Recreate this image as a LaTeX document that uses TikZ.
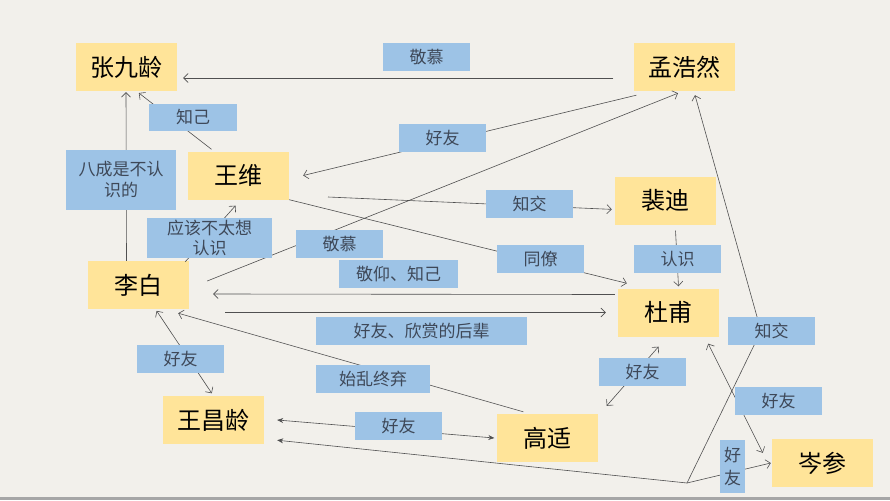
\documentclass[tikz,border=0pt]{standalone}
\usepackage{fontspec}
\newfontfamily\cjk{Noto Sans CJK SC}
\usetikzlibrary{arrows.meta}
\definecolor{paper}{RGB}{242,240,235}
\definecolor{namefill}{RGB}{255,228,153}
\definecolor{tagfill}{RGB}{157,195,230}
\definecolor{tagtext}{RGB}{62,72,88}
\definecolor{linkc}{RGB}{80,80,80}

\begin{document}
\begin{tikzpicture}[x=1pt,y=-1pt,
  person/.style={fill=namefill,minimum width=101pt,minimum height=48pt,inner sep=0pt,font=\cjk\fontsize{24}{28}\selectfont},
  tag/.style={fill=tagfill,minimum width=87pt,minimum height=28pt,inner sep=0pt,text=tagtext,align=center,font=\cjk\fontsize{17}{21}\selectfont},
  link/.style={draw=linkc,line width=0.6pt},
  otip/.tip={Straight Barb[length=4.5pt,width=9pt]},
  ftip/.tip={Stealth[length=6pt,width=5pt]}]
  \useasboundingbox (0,0) rectangle (890,500);
  \fill[paper] (0,0) rectangle (890,500);
  \fill[gray!70] (0,497) rectangle (890,500);

  \node[person] (zjl) at (126.5,67) {张九龄};
  \node[person] (mhr) at (684,67) {孟浩然};
  \node[person] (ww) at (238.5,175.5) {王维};
  \node[person] (pd) at (665.5,200.5) {裴迪};
  \node[person] (lb) at (138.5,285) {李白};
  \node[person] (du) at (668.5,312.5) {杜甫};
  \node[person] (wcl) at (213.5,420) {王昌龄};
  \node[person] (gs) at (547,438) {高适};
  \node[person] (cs) at (822.5,463) {岑参};
  \coordinate (zjfree) at (328,197);
  \coordinate (knee) at (687,483);
  \coordinate (kink) at (761,331);

  \draw[link,-{otip},shorten <=20pt,shorten >=6pt] ([yshift=-11pt]mhr.west) -- ([yshift=-11pt]zjl.east);
  \draw[link,-{otip},shorten >=3pt] ([xshift=-27pt,yshift=2pt]ww.north) -- ([xshift=10pt]zjl.south);
  \draw[link,-{otip},shorten >=1pt] ([xshift=-12pt]lb.north) -- ([xshift=-0.5pt]zjl.south);
  \draw[link,-{otip}] ([xshift=3pt,yshift=-4pt]mhr.south west) -- ([xshift=14pt]ww.east);
  \draw[link,-{otip}] ([xshift=18pt,yshift=4pt]lb.east) -- ([xshift=-6pt,yshift=-2pt]mhr.south);
  \draw[link,-{otip}] ([xshift=-4pt,yshift=-1pt]lb.north east) -- ([xshift=-3pt,yshift=-6pt]ww.south);
  \draw[link,-{otip},shorten >=3pt] (zjfree) -- ([yshift=-9pt]pd.west);
  \draw[link,-{otip}] (ww.south east) -- ([xshift=9pt,yshift=5pt]du.north west);
  \draw[link,-{otip}] ([xshift=10pt,yshift=-6pt]pd.south) -- ([xshift=10pt,yshift=2pt]du.north);
  \draw[link,-{otip}] ([xshift=-3pt,yshift=18pt]du.west) -- ([xshift=24pt,yshift=-9pt]lb.east);
  \draw[link,-{otip}] ([xshift=36pt,yshift=-27.5pt]lb.east) -- ([xshift=-12pt]du.west);
  \draw[link,{otip}-{otip},shorten <=3pt,shorten >=2pt] (wcl.north) -- ([xshift=17pt]lb.south);
  \draw[link,-{otip}] ([xshift=27pt,yshift=2pt]gs.north west) -- ([xshift=-11pt,yshift=-4pt]lb.south east);
  \draw[link,{ftip}-{ftip}] ([xshift=13pt]wcl.east) -- ([xshift=-2pt]gs.west);
  \draw[link,{otip}-{otip}] ([xshift=9pt,yshift=8pt]gs.north east) -- ([xshift=-10pt,yshift=-10pt]du.south);
  \draw[link,{otip}-{otip}] ([xshift=-11pt,yshift=-7pt]du.south east) -- ([xshift=-9pt,yshift=-14pt]cs.north west);
  \draw[link,{ftip}-{otip}] ([xshift=13pt,yshift=4pt]wcl.south east) -- (knee) -- ([xshift=-1pt]cs.west);
  \draw[link,-{otip}] (knee) -- (kink) -- ([xshift=11pt,yshift=-4pt]mhr.south);

  \node[tag] (tjm1) at (426.5,57) {敬慕};
  \node[tag,minimum width=88pt,minimum height=27pt] (tzj1) at (193,117.5) {知己};
  \node[tag] (thy1) at (442.5,138) {好友};
  \node[tag,minimum width=110pt,minimum height=60pt] (tbc) at (121,180) {八成是不认\\识的};
  \node[tag] (tzj2) at (529.5,203.5) {知交};
  \node[tag,minimum width=125pt,minimum height=40pt,font=\cjk\fontsize{17}{20}\selectfont] (tyg) at (209.5,238) {应该不太想\\认识};
  \node[tag] (tjm2) at (339.5,244) {敬慕};
  \node[tag] (ttl) at (540.5,259) {同僚};
  \node[tag] (trs) at (677.5,259) {认识};
  \node[tag,minimum width=119pt] (tjy) at (398.5,274) {敬仰、知己};
  \node[tag,minimum width=211pt] (thy2) at (421.5,331) {好友、欣赏的后辈};
  \node[tag] (tzj3) at (771.5,331) {知交};
  \node[tag] (thy3) at (180.5,359) {好友};
  \node[tag,minimum width=114pt] (tsl) at (373,379) {始乱终弃};
  \node[tag] (thy4) at (642.5,372) {好友};
  \node[tag] (thy5) at (778.5,401) {好友};
  \node[tag] (thy6) at (398.5,426) {好友};
  \node[tag,minimum width=25pt,minimum height=53pt,font=\cjk\fontsize{17}{23}\selectfont] (thy7) at (732.5,466.5) {好\\友};
\end{tikzpicture}
\end{document}
